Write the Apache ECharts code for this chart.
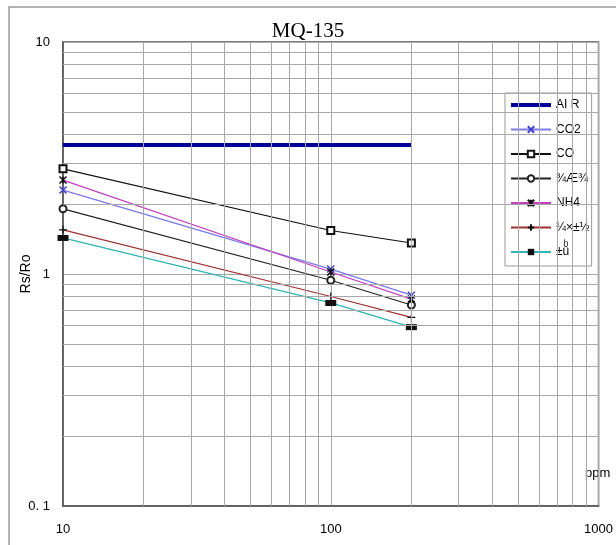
<!DOCTYPE html>
<html>
<head>
<meta charset="utf-8">
<script src="https://cdn.jsdelivr.net/npm/echarts@6/dist/echarts.min.js"></script>
<style>
  html, body { margin: 0; padding: 0; background: #fff; }
  #chart { width: 616px; height: 545px; }
</style>
</head>
<body>
<div id="chart"></div>
<script>
// 数据
const ppm = [10, 100, 200];
const air = [3.6, 3.6, 3.6];
const co2 = [2.30, 1.05, 0.81];
const co = [2.84, 1.54, 1.36];
const alcohol = [1.91, 0.94, 0.735];
const nh4 = [2.54, 1.02, 0.78];
const toluene = [1.55, 0.80, 0.65];
const acetone = [1.43, 0.75, 0.59];

const names = ['AI R', 'CO2', 'CO', '¾Æ¾«', 'NH4', '¼×±½', '±ûͪ'];

// 网格的次刻度
const xMinor = [20, 30, 40, 50, 60, 70, 80, 90, 200, 300, 400, 500, 600, 700, 800, 900];
const yMinor = [0.2, 0.3, 0.4, 0.5, 0.6, 0.7, 0.8, 0.9, 2, 3, 4, 5, 6, 7, 8, 9];

const gridColor = '#a8a8a8';

const chart = echarts.init(document.getElementById('chart'));

function pairs(ys) {
  return ppm.map((x, i) => [x, ys[i]]);
}

function lineSeries(name, ys, lineColor, width, symbol, size, mark) {
  return {
    name: name,
    type: 'line',
    data: pairs(ys),
    symbol: symbol,
    symbolSize: size,
    showSymbol: symbol !== 'none',
    lineStyle: { color: lineColor, width: width },
    itemStyle: mark,
    z: 3
  };
}

const cross = 'path://M0,0L10,10M10,0L0,10';
const star = 'path://M0,0L10,10M10,0L0,10M5,0L5,10';
const plus = 'path://M5,0L5,10M0,5L10,5';

const legendData = names.map(n => n === 'AI R'
  ? { name: n, icon: 'path://M0,0L40,0L40,4L0,4Z', itemStyle: { color: '#000099' } }
  : n);

const option = {
  animation: false,
  backgroundColor: '#fff',
  title: {
    text: 'MQ-135',
    left: 'center',
    top: 16,
    textStyle: { fontFamily: 'Liberation Serif', fontWeight: 'normal', fontSize: 21, color: '#000' }
  },
  grid: {
    left: 63, right: 16, top: 42, bottom: 39,
    show: true, borderColor: '#555', borderWidth: 1.5
  },
  legend: {
    orient: 'vertical',
    left: 505,
    top: 93,
    padding: [6, 2, 8, 5],
    itemWidth: 40,
    itemHeight: 8,
    itemGap: 12.5,
    backgroundColor: '#fff',
    borderColor: '#999',
    borderWidth: 1,
    borderRadius: 0,
    data: legendData,
    textStyle: {
      fontFamily: 'Liberation Sans', fontSize: 12, color: '#000',
      width: 37, overflow: 'truncate', ellipsis: ''
    }
  },
  xAxis: {
    type: 'log',
    logBase: 10,
    min: 10,
    max: 1000,
    axisLine: { lineStyle: { color: '#555', width: 1.5 } },
    axisTick: { show: false },
    axisLabel: {
      margin: 17, fontFamily: 'Liberation Sans', fontSize: 13, color: '#000',
      formatter: v => String(Math.round(v))
    },
    splitLine: { show: true, lineStyle: { color: gridColor, width: 1 } }
  },
  yAxis: {
    type: 'log',
    logBase: 10,
    min: 0.1,
    max: 10,
    name: 'Rs/Ro',
    nameLocation: 'middle',
    nameGap: 30,
    nameMoveOverlap: false,
    nameTextStyle: { fontFamily: 'Liberation Sans', fontSize: 14, color: '#000' },
    axisLine: { lineStyle: { color: '#555', width: 1.5 } },
    axisTick: { show: false },
    axisLabel: {
      margin: 13, fontFamily: 'Liberation Sans', fontSize: 13, color: '#000',
      formatter: v => (v < 1 ? '0. 1' : String(Math.round(v)))
    },
    splitLine: { show: true, lineStyle: { color: gridColor, width: 1 } }
  },
  graphic: [
    {
      type: 'rect', silent: true, z: -1,
      shape: { x: 9, y: 7, width: 700, height: 600 },
      style: { fill: 'none', stroke: '#999', lineWidth: 1.5 }
    },
    {
      type: 'text', left: 585, top: 467, silent: true,
      style: { text: 'ppm', fontFamily: 'Liberation Sans', fontSize: 13, fill: '#000' }
    }
  ],
  series: [
    {
      name: 'grid-minor',
      type: 'line',
      data: [],
      z: 1,
      silent: true,
      markLine: {
        silent: true,
        symbol: 'none',
        label: { show: false },
        lineStyle: { color: gridColor, width: 1, type: 'solid' },
        data: xMinor.map(v => ({ xAxis: v })).concat(yMinor.map(v => ({ yAxis: v })))
      }
    },
    lineSeries(names[0], air, '#000099', 4, 'none', 0, { color: '#000099' }),
    lineSeries(names[1], co2, '#7a7ae8', 1.3, cross, 7,
      { color: '#4040c8', borderColor: '#4040c8', borderWidth: 1.5 }),
    lineSeries(names[2], co, '#111', 1.2, 'emptyRect', 7,
      { color: '#111', borderColor: '#111', borderWidth: 1.2 }),
    lineSeries(names[3], alcohol, '#222', 1.2, 'emptyCircle', 7,
      { color: '#222', borderColor: '#222', borderWidth: 1.2 }),
    lineSeries(names[4], nh4, '#c040c0', 1.3, star, 7,
      { color: '#111', borderColor: '#111', borderWidth: 1.5 }),
    lineSeries(names[5], toluene, '#a03030', 1.2, plus, 8,
      { color: '#111', borderColor: '#111', borderWidth: 1.2 }),
    lineSeries(names[6], acetone, '#30b4b4', 1.3, 'rect', [11, 6],
      { color: '#111', borderColor: '#111', borderWidth: 0 })
  ]
};

chart.setOption(option);
</script>
</body>
</html>
